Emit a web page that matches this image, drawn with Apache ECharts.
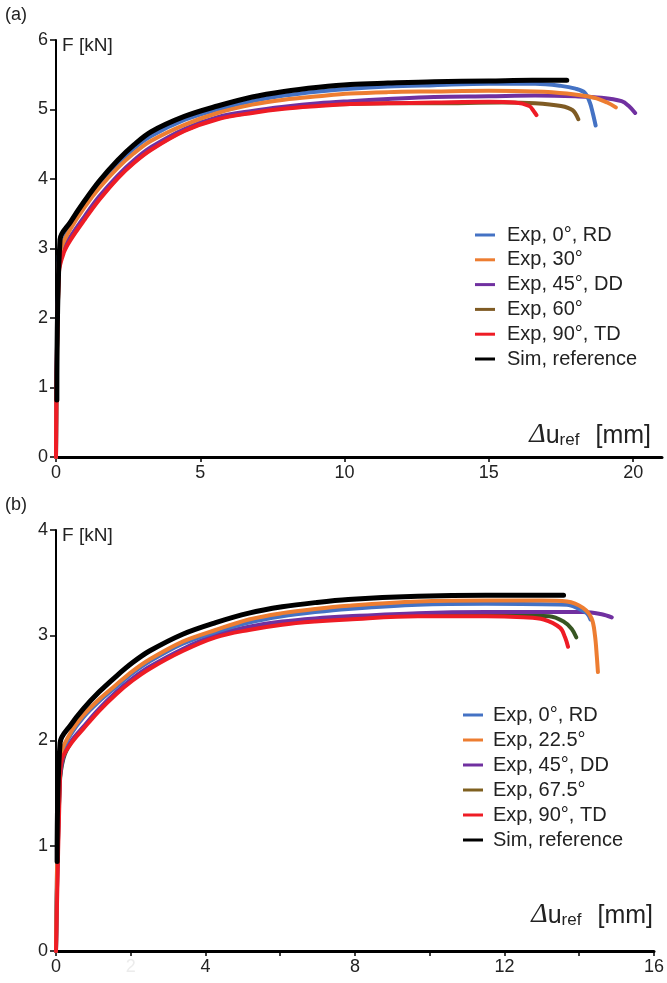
<!DOCTYPE html>
<html>
<head>
<meta charset="utf-8">
<script src="https://cdn.jsdelivr.net/npm/echarts@6/dist/echarts.min.js"></script>
<style>
html,body{margin:0;padding:0;background:#fff;}
#chart{width:667px;height:983px;}
</style>
</head>
<body>
<div id="chart"></div>
<script>
// ---------- Chart (a) ----------
const namesA = ['Exp, 0°, RD', 'Exp, 30°', 'Exp, 45°, DD', 'Exp, 60°', 'Exp, 90°, TD', 'Sim, reference'];
const a_rd = [[0,0],[0.1,2.9],[0.2,3.05],[0.5,3.31],[1.0,3.62],[1.5,3.9],[2.14,4.21],[2.7,4.44],[3.3,4.62],[4.45,4.85],[5.6,5.0],[6.8,5.12],[7.9,5.2],[9.1,5.26],[10.2,5.3],[11.5,5.33],[13.1,5.35],[15,5.37],[16.6,5.37],[17.5,5.34],[18.0,5.3],[18.33,5.24],[18.5,5.1],[18.6,4.95],[18.7,4.77]];
const a_30 = [[0,0],[0.1,2.8],[0.2,3.03],[0.5,3.28],[1.0,3.6],[1.5,3.87],[2.14,4.16],[2.7,4.37],[3.3,4.55],[4.45,4.78],[5.6,4.95],[6.8,5.07],[7.9,5.14],[9.1,5.19],[10.2,5.23],[11.5,5.25],[13.1,5.26],[15,5.27],[16.6,5.26],[17.7,5.23],[18.65,5.17],[19.1,5.1],[19.4,5.03]];
const a_dd = [[0,0],[0.1,2.75],[0.25,2.98],[0.5,3.17],[1.0,3.47],[1.5,3.75],[2.14,4.05],[2.7,4.27],[3.3,4.46],[4.45,4.72],[5.6,4.89],[6.8,4.98],[7.9,5.04],[9.1,5.09],[10.2,5.12],[11.5,5.15],[13.1,5.18],[15,5.19],[16.6,5.2],[18,5.19],[18.9,5.17],[19.6,5.12],[19.85,5.05],[20.07,4.95]];
const a_60 = [[0,0],[0.1,2.7],[0.25,2.95],[0.5,3.14],[1.0,3.44],[1.5,3.72],[2.14,4.02],[2.7,4.24],[3.3,4.43],[4.45,4.7],[5.6,4.87],[6.8,4.96],[7.9,5.02],[9.1,5.06],[10.2,5.08],[11.5,5.09],[13.1,5.09],[15.45,5.1],[16.6,5.09],[17.5,5.05],[17.9,4.99],[18.1,4.86]];
const a_td = [[0,0],[0.1,2.65],[0.27,2.94],[0.5,3.12],[1.0,3.42],[1.5,3.7],[2.14,4.01],[2.7,4.23],[3.3,4.42],[4.45,4.69],[5.6,4.86],[6.8,4.95],[7.9,5.01],[9.1,5.05],[10.2,5.08],[11.5,5.09],[13.1,5.1],[15,5.11],[15.9,5.1],[16.4,5.05],[16.55,4.98],[16.65,4.92]];
const a_sim = [[0.03,0.82],[0.14,3.13],[0.5,3.38],[1.0,3.69],[1.5,3.97],[2.14,4.27],[2.7,4.49],[3.3,4.68],[4.45,4.9],[5.6,5.05],[6.8,5.18],[7.9,5.26],[9.1,5.32],[10.2,5.36],[11.5,5.38],[13.1,5.4],[15,5.41],[16.5,5.42],[17.7,5.42]];
const a_xTicks = [0, 5, 10, 15, 20];

// ---------- Chart (b) ----------
const namesB = ['Exp, 0°, RD', 'Exp, 22.5°', 'Exp, 45°, DD', 'Exp, 67.5°', 'Exp, 90°, TD', 'Sim, reference'];
const b_rd = [[0,0],[0.08,1.68],[0.15,1.88],[0.4,2.06],[0.73,2.22],[1.15,2.37],[1.61,2.51],[2.05,2.64],[2.5,2.75],[3.39,2.92],[4.27,3.03],[5.16,3.12],[6.05,3.18],[6.93,3.22],[7.82,3.25],[9.68,3.29],[11.5,3.3],[13.67,3.29],[14.0,3.25],[14.2,3.21],[14.3,3.15]];
const b_225 = [[0,0],[0.08,1.7],[0.15,1.9],[0.4,2.08],[0.73,2.24],[1.15,2.39],[1.61,2.53],[2.05,2.66],[2.5,2.77],[3.39,2.94],[4.27,3.05],[5.16,3.15],[6.05,3.21],[6.93,3.25],[7.82,3.28],[9.68,3.32],[11.5,3.33],[13.0,3.33],[13.67,3.32],[14.1,3.26],[14.33,3.16],[14.42,3.0],[14.47,2.8],[14.5,2.65]];
const b_dd = [[0,0],[0.1,1.6],[0.2,1.85],[0.4,1.99],[0.73,2.13],[1.15,2.3],[1.61,2.46],[2.05,2.59],[2.5,2.7],[3.39,2.87],[4.27,3.0],[5.16,3.08],[6.05,3.13],[6.93,3.16],[7.82,3.18],[9.68,3.21],[11.5,3.22],[13.0,3.22],[14.1,3.22],[14.6,3.2],[14.87,3.17]];
const b_675 = [[0,0],[0.1,1.58],[0.2,1.83],[0.4,1.98],[0.73,2.12],[1.15,2.29],[1.61,2.45],[2.05,2.58],[2.5,2.69],[3.39,2.86],[4.27,2.99],[5.16,3.06],[6.05,3.11],[6.93,3.14],[7.82,3.16],[9.68,3.19],[11.5,3.19],[13.2,3.18],[13.58,3.13],[13.8,3.06],[13.92,2.98]];
const b_td = [[0,0],[0.1,1.55],[0.15,1.81],[0.4,1.97],[0.73,2.11],[1.15,2.28],[1.61,2.44],[2.05,2.57],[2.5,2.68],[3.39,2.85],[4.27,2.98],[5.16,3.05],[6.05,3.1],[6.93,3.13],[7.82,3.15],[9.68,3.18],[11.5,3.18],[12.5,3.17],[13.05,3.15],[13.49,3.07],[13.62,2.98],[13.7,2.89]];
const b_sim = [[0.03,0.85],[0.11,1.98],[0.4,2.15],[0.73,2.3],[1.15,2.46],[1.61,2.61],[2.05,2.74],[2.5,2.85],[3.39,3.01],[4.27,3.12],[5.16,3.21],[6.05,3.27],[6.93,3.31],[7.82,3.34],[9.68,3.37],[11.5,3.38],[13.58,3.38]];
const b_xTicks = [0, 2, 4, 6, 8, 10, 12, 14, 16];
const b_xLabels = [0, 2, 4, 8, 12, 16];

const C = {blue:'#4472C4', orange:'#ED7D31', purple:'#7030A0', brown:'#7F5B24', green:'#375623', red:'#EE1C25', black:'#000000', legBrown:'#7F6020'};
const FONT = 'Liberation Sans, Arial, sans-serif';

function line(name, data, color, xi, width, z) {
  return {
    type: 'line', name: name, data: data, xAxisIndex: xi, yAxisIndex: xi,
    showSymbol: false, symbol: 'none', smooth: 0.35,
    lineStyle: {color: color, width: width, cap: 'round', join: 'round'},
    itemStyle: {color: color}, z: z, animation: false, emphasis: {disabled: true}
  };
}

function xAxis(grid, max, ticks, labels, fmt) {
  return {
    type: 'value', gridIndex: grid, min: 0, max: max,
    axisLine: {show: true, onZero: false, lineStyle: {color: '#000', width: 3}},
    axisTick: {show: true, length: 5, customValues: ticks, lineStyle: {color: '#000', width: 1.5}},
    axisLabel: {customValues: labels, color: '#222', fontSize: 18, fontFamily: FONT, margin: 7, formatter: fmt,
      rich: {f: {color: '#ececec', fontSize: 18, fontFamily: FONT}}},
    splitLine: {show: false}
  };
}
function yAxis(grid, max) {
  return {
    type: 'value', gridIndex: grid, min: 0, max: max, interval: 1,
    axisLine: {show: true, lineStyle: {color: '#000', width: 2}},
    axisTick: {show: true, length: 6, lineStyle: {color: '#000', width: 1.5}},
    axisLabel: {color: '#222', fontSize: 18, fontFamily: FONT, margin: 8},
    splitLine: {show: false}
  };
}
function legend(names, left, top, gap, textPad, overrides) {
  return {
    orient: 'vertical', left: left, top: top, itemWidth: 20, itemHeight: 3, itemGap: gap,
    icon: 'rect', selectedMode: false, padding: 0,
    textStyle: {color: '#222', fontSize: 20, fontFamily: FONT, lineHeight: 20, padding: [0,0,0,textPad]},
    data: names.map(n => overrides[n] ? Object.assign({name: n}, overrides[n]) : n)
  };
}
function axisTitle(x, y) {
  return {
    type: 'text', right: 667 - x, top: y, z: 100,
    style: {
      text: '{d|Δ}{u|u}{s|ref}{u|[mm]}',
      rich: {
        d: {fontSize: 28, fontStyle: 'italic', fontFamily: 'Liberation Serif, serif', fill: '#222', verticalAlign: 'bottom', lineHeight: 30},
        u: {fontSize: 25, fontFamily: FONT, fill: '#222', verticalAlign: 'bottom', lineHeight: 30},
        s: {fontSize: 17, fontFamily: FONT, fill: '#222', verticalAlign: 'bottom', lineHeight: 24, padding: [0,16,0,0]}
      }
    }
  };
}

const chart = echarts.init(document.getElementById('chart'), null, {renderer: 'canvas'});
chart.setOption({
  animation: false,
  backgroundColor: '#fff',
  grid: [
    {left: 56, top: 40, width: 606, height: 417},
    {left: 56, top: 530, width: 602, height: 421}
  ],
  xAxis: [
    xAxis(0, 21, a_xTicks, a_xTicks, v => String(v)),
    xAxis(1, 16, b_xTicks, b_xLabels, v => v === 2 ? '{f|2}' : String(v))
  ],
  yAxis: [yAxis(0, 6), yAxis(1, 4)],
  legend: [
    legend(namesA, 475, 225, 4.8, 7, {}),
    legend(namesB, 463, 705, 5, 5, {'Exp, 67.5°': {itemStyle: {color: C.legBrown}}})
  ],
  graphic: [
    {type: 'text', left: 5, top: 6, style: {text: '(a)', fontSize: 18, fontFamily: FONT, fill: '#222'}},
    {type: 'text', left: 62, top: 36, style: {text: 'F [kN]', fontSize: 19, fontFamily: FONT, fill: '#222'}},
    {type: 'text', left: 5, top: 496, style: {text: '(b)', fontSize: 18, fontFamily: FONT, fill: '#222'}},
    {type: 'text', left: 62, top: 526, style: {text: 'F [kN]', fontSize: 19, fontFamily: FONT, fill: '#222'}},
    axisTitle(651, 421),
    axisTitle(653, 901)
  ],
  series: [
    line(namesA[3], a_60, C.brown, 0, 4, 2),
    line(namesA[2], a_dd, C.purple, 0, 4, 3),
    line(namesA[0], a_rd, C.blue, 0, 4, 4),
    line(namesA[1], a_30, C.orange, 0, 4, 5),
    line(namesA[4], a_td, C.red, 0, 4, 6),
    line(namesA[5], a_sim, C.black, 0, 5, 7),
    line(namesB[3], b_675, C.green, 1, 4, 2),
    line(namesB[2], b_dd, C.purple, 1, 4, 3),
    line(namesB[0], b_rd, C.blue, 1, 4, 4),
    line(namesB[1], b_225, C.orange, 1, 4, 5),
    line(namesB[4], b_td, C.red, 1, 4, 6),
    line(namesB[5], b_sim, C.black, 1, 5, 7)
  ]
});
</script>
</body>
</html>
